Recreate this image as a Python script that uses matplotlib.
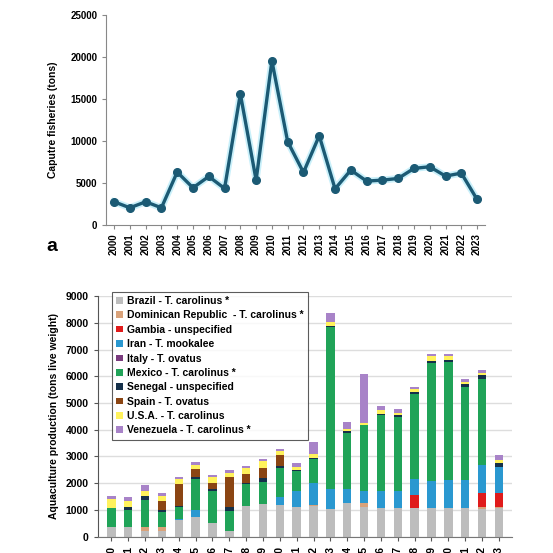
import matplotlib
matplotlib.use("Agg")
import matplotlib.pyplot as plt
import numpy as np

plt.rcParams['font.family'] = ['Liberation Sans', 'DejaVu Sans']
plt.rcParams['font.weight'] = 'bold'
plt.rcParams['axes.labelweight'] = 'bold'

years = [str(y) for y in range(2000, 2024)]

# panel a: capture fisheries (tons)
capture = [2720, 2000, 2720, 2000, 6270, 4390, 5750, 4310, 15620, 5310, 19570, 9900,
           6230, 10620, 4270, 6510, 5190, 5310, 5510, 6710, 6910, 5790, 6150, 3000]

# panel b: aquaculture production by country (tons live weight)
brazil = [350, 350, 200, 200, 620, 750, 500, 220, 1150, 1220, 1170, 1100,
          1150, 1020, 1250, 1100, 1075, 1075, 1075, 1075, 1075, 1075, 1050, 1080]
dominican = [0, 0, 150, 150, 0, 0, 0, 0, 0, 0, 0, 0,
             40, 0, 0, 150, 0, 0, 0, 0, 0, 0, 50, 30]
gambia = [0, 0, 0, 0, 0, 0, 0, 0, 0, 0, 0, 0,
          0, 0, 0, 0, 0, 0, 500, 0, 0, 0, 520, 540]
iran = [0, 0, 0, 0, 30, 250, 0, 0, 0, 0, 300, 620,
        830, 750, 540, 440, 615, 650, 570, 1025, 1055, 1055, 1050, 970]
italy = [0] * 24
mexico = [730, 650, 1020, 580, 450, 1170, 1220, 750, 820, 840, 1090, 740,
          870, 6080, 2100, 2470, 2850, 2755, 3205, 4380, 4410, 3450, 3240, 0]
senegal = [0, 120, 150, 80, 40, 50, 80, 130, 50, 120, 100, 50,
           70, 40, 50, 30, 60, 60, 60, 80, 80, 120, 130, 130]
spain = [0, 0, 0, 320, 830, 300, 200, 1120, 320, 400, 400, 0,
         0, 0, 0, 0, 0, 0, 0, 0, 0, 0, 0, 0]
usa = [320, 210, 200, 190, 180, 160, 220, 180, 220, 260, 150, 110,
       120, 120, 100, 60, 150, 80, 130, 190, 130, 90, 80, 120]
venezuela = [130, 140, 200, 120, 100, 120, 90, 100, 100, 60, 60, 120,
             450, 370, 250, 1830, 130, 160, 60, 80, 100, 110, 110, 170]

series = [
    ("Brazil - T. carolinus *", brazil, "#bdbdbd"),
    ("Dominican Republic  - T. carolinus *", dominican, "#d9a27a"),
    ("Gambia - unspecified", gambia, "#e01b1b"),
    ("Iran - T. mookalee", iran, "#2a98d0"),
    ("Italy - T. ovatus", italy, "#7a3b7e"),
    ("Mexico - T. carolinus *", mexico, "#20a358"),
    ("Senegal - unspecified", senegal, "#15304a"),
    ("Spain - T. ovatus", spain, "#8b4513"),
    ("U.S.A. - T. carolinus", usa, "#fff25c"),
    ("Venezuela - T. carolinus *", venezuela, "#a883c8"),
]

fig = plt.figure(figsize=(5.53, 5.53), dpi=100)

# ---- panel a ----
ax1 = fig.add_axes([0.192, 0.594, 0.685, 0.378])
x = np.arange(len(years))
ax1.plot(x, capture, color="#a6e6f7", lw=5, alpha=0.6, zorder=1)
ax1.plot(x, capture, color="#1b5a74", lw=2.4, marker="o", ms=5.5, zorder=2)
ax1.set_xlim(-0.5, 23.5)
ax1.set_ylim(0, 25000)
ax1.set_yticks(range(0, 25001, 5000))
ax1.set_xticks(x)
ax1.set_xticklabels(years, rotation=90, fontsize=7, fontweight="bold")
for t in ax1.get_yticklabels():
    t.set_fontweight("bold")
ax1.tick_params(axis="y", labelsize=7, length=3, color="#888888")
ax1.tick_params(axis="x", length=3, color="#888888")
for s in ["top", "right"]:
    ax1.spines[s].set_visible(False)
for s in ["left", "bottom"]:
    ax1.spines[s].set_color("#888888")
ax1.set_ylabel("Caputre fisheries (tons)", fontsize=7.5, fontweight="bold", labelpad=9)
fig.text(0.083, 0.555, "a", fontsize=14, fontweight="bold", ha="left", va="center")

# ---- panel b ----
ax2 = fig.add_axes([0.177, 0.0295, 0.748, 0.4352])
bottom = np.zeros(len(years))
for label, vals, color in series:
    vals = np.array(vals, dtype=float)
    ax2.bar(x, vals, width=0.5, bottom=bottom, color=color, label=label, zorder=2)
    bottom += vals
ax2.set_xlim(-0.8, 23.75)
ax2.set_ylim(0, 9000)
ax2.set_yticks(range(0, 9001, 1000))
ax2.yaxis.grid(True, color="#dddddd", lw=1, zorder=0)
ax2.set_xticks(x)
ax2.set_xticklabels(years, rotation=90, fontsize=7.5, fontweight="bold")
for t in ax2.get_yticklabels():
    t.set_fontweight("bold")
ax2.tick_params(axis="y", labelsize=7.5, length=3, color="#555555")
ax2.tick_params(axis="x", length=3, color="#555555")
for s in ["top", "right"]:
    ax2.spines[s].set_visible(False)
ax2.spines["left"].set_color("#555555")
ax2.spines["bottom"].set_color("#777777")
ax2.set_ylabel("Aquaculture production (tons live weight)", fontsize=7.5,
               fontweight="bold", labelpad=5)
leg = ax2.legend(loc="upper left", bbox_to_anchor=(0.033, 1.017),
                 prop={"size": 7.5, "weight": "bold"},
                 frameon=True, fancybox=False, edgecolor="#333333",
                 handlelength=0.7, handleheight=0.6, handletextpad=0.4,
                 labelspacing=0.42, borderpad=0.4, borderaxespad=0)
leg.get_frame().set_linewidth(0.8)

fig.savefig("out.png", dpi=100)
